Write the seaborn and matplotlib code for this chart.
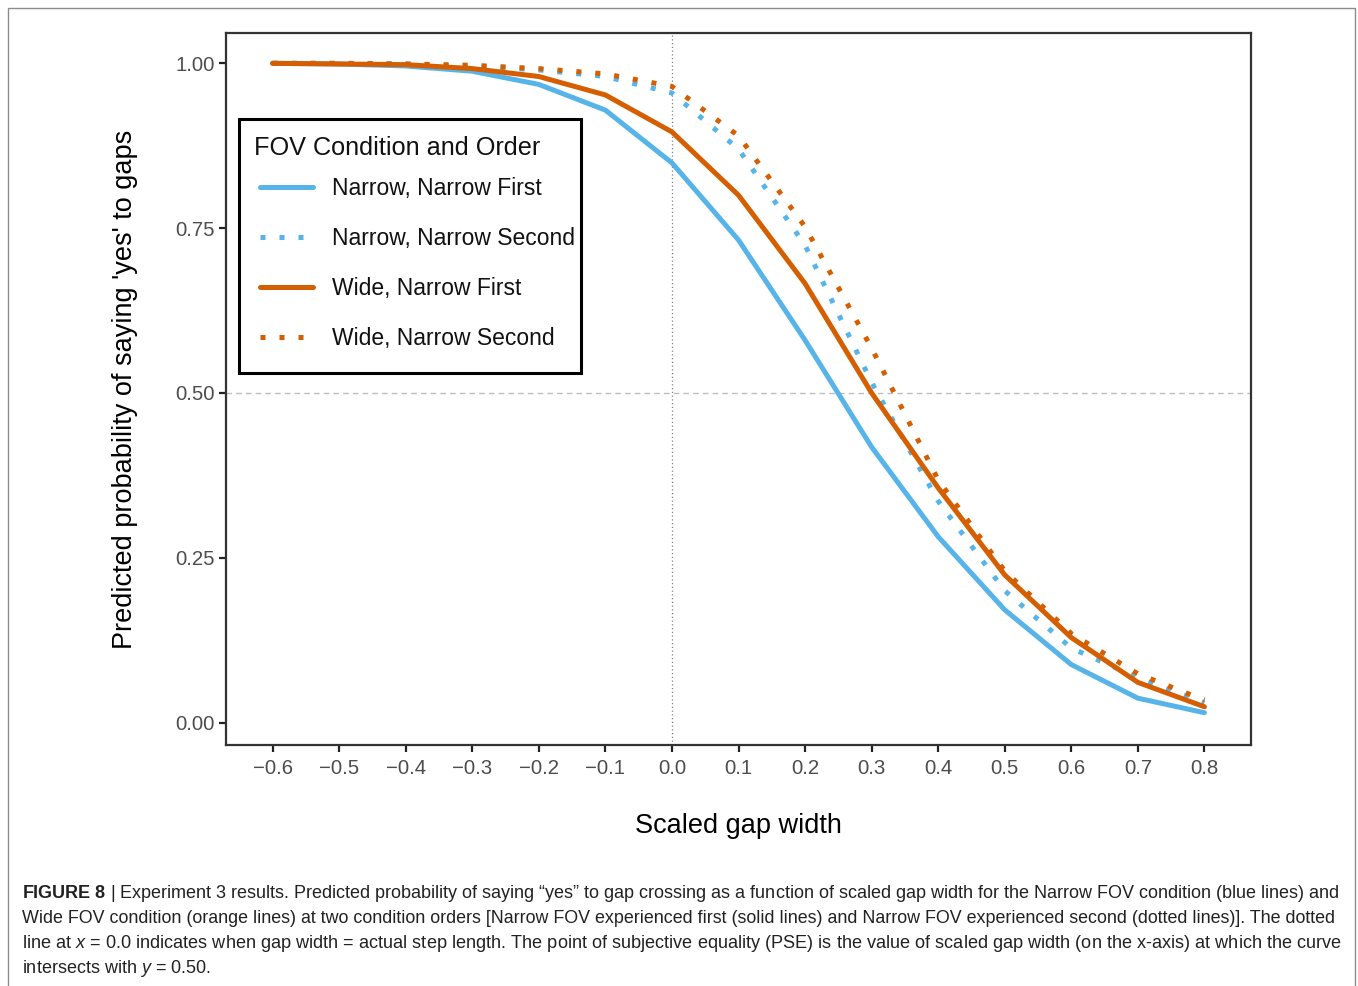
import numpy as np
import pandas as pd
import matplotlib
matplotlib.use("Agg")
import matplotlib.pyplot as plt
import seaborn as sns
from matplotlib.lines import Line2D
from matplotlib.patches import Rectangle
from matplotlib.legend_handler import HandlerLine2D

# ---------------- data ----------------
gap_width = [-0.6, -0.5, -0.4, -0.3, -0.2, -0.1, 0.0, 0.1, 0.2, 0.3, 0.4, 0.5, 0.6, 0.7, 0.8]
narrow_first = [1.000, 0.999, 0.996, 0.988, 0.968, 0.929, 0.849, 0.732, 0.580, 0.418, 0.282, 0.171, 0.088, 0.037, 0.015]
narrow_second = [1.000, 1.000, 0.999, 0.996, 0.990, 0.980, 0.955, 0.870, 0.724, 0.516, 0.336, 0.200, 0.113, 0.068, 0.030]
wide_first = [1.000, 0.999, 0.998, 0.992, 0.980, 0.952, 0.896, 0.800, 0.666, 0.500, 0.356, 0.224, 0.129, 0.061, 0.024]
wide_second = [1.000, 1.000, 0.999, 0.997, 0.992, 0.984, 0.965, 0.890, 0.752, 0.568, 0.368, 0.230, 0.135, 0.074, 0.034]
series_names = ["Narrow, Narrow First", "Narrow, Narrow Second",
                "Wide, Narrow First", "Wide, Narrow Second"]
legend_title = "FOV Condition and Order"
x_tick_values = [-0.6, -0.5, -0.4, -0.3, -0.2, -0.1, 0.0, 0.1, 0.2, 0.3, 0.4, 0.5, 0.6, 0.7, 0.8]
x_tick_labels = ["\u22120.6", "\u22120.5", "\u22120.4", "\u22120.3", "\u22120.2", "\u22120.1",
                 "0.0", "0.1", "0.2", "0.3", "0.4", "0.5", "0.6", "0.7", "0.8"]
y_tick_values = [0.0, 0.25, 0.50, 0.75, 1.00]
y_tick_labels = ["0.00", "0.25", "0.50", "0.75", "1.00"]
x_label = "Scaled gap width"
y_label = "Predicted probability of saying 'yes' to gaps"
caption_lines = [
    r"$\mathbf{FIGURE\ 8}$ | Experiment 3 results. Predicted probability of saying " + "\u201cyes\u201d" +
    " to gap crossing as a function of scaled gap width for the Narrow FOV condition (blue lines) and",
    "Wide FOV condition (orange lines) at two condition orders [Narrow FOV experienced first (solid lines) and Narrow FOV experienced second (dotted lines)]. The dotted",
    r"line at $x$ = 0.0 indicates when gap width = actual step length. The point of subjective equality (PSE) is the value of scaled gap width (on the x-axis) at which the curve",
    r"intersects with $y$ = 0.50.",
]

# ---------------- style ----------------
sns.set_style("white")
plt.rcParams["font.family"] = ["Liberation Sans", "DejaVu Sans"]
plt.rcParams["mathtext.fontset"] = "custom"
plt.rcParams["mathtext.rm"] = "Liberation Sans"
plt.rcParams["mathtext.it"] = "Liberation Sans:italic"
plt.rcParams["mathtext.bf"] = "Liberation Sans:bold"

BLUE = "#56B4E9"
ORANGE = "#D55E00"
palette = {series_names[0]: BLUE, series_names[1]: BLUE,
           series_names[2]: ORANGE, series_names[3]: ORANGE}
DOT = (1, 2.8)
dash_map = {series_names[0]: "", series_names[1]: DOT,
            series_names[2]: "", series_names[3]: DOT}

values = [narrow_first, narrow_second, wide_first, wide_second]
df = pd.concat([pd.DataFrame({"gap": gap_width, "p": v, "series": n})
                for n, v in zip(series_names, values)], ignore_index=True)

W, H = 1358, 986
fig = plt.figure(figsize=(W / 100, H / 100), dpi=100)
fig.patch.set_facecolor("white")
AX_L, AX_R, AX_T, AX_B = 226, 1251, 33, 745
ax = fig.add_axes([AX_L / W, 1 - AX_B / H, (AX_R - AX_L) / W, (AX_B - AX_T) / H])
AW, AH = AX_R - AX_L, AX_B - AX_T

def axfrac(px, py):
    return (px - AX_L) / AW, (AX_B - py) / AH

# reference lines
ax.axvline(0.0, color="#808080", lw=0.9, ls=(0, (1, 2)), zorder=1)
ax.axhline(0.5, color="#bdbdbd", lw=1.0, ls=(0, (4, 3)), zorder=1)

sns.lineplot(data=df, x="gap", y="p", hue="series", style="series",
             hue_order=series_names, style_order=series_names,
             palette=palette, dashes=dash_map, linewidth=3.6,
             legend=False, errorbar=None, estimator=None, sort=False, ax=ax, zorder=3)
for ln in ax.lines[2:]:
    ln.set_dash_capstyle("butt")

ax.set_xlim(-0.67, 0.87)
ax.set_ylim(-0.034, 1.046)
ax.set_xticks(x_tick_values)
ax.set_xticklabels(x_tick_labels)
ax.set_yticks(y_tick_values)
ax.set_yticklabels(y_tick_labels)
ax.tick_params(axis="both", direction="out", length=5, width=1.6, color="#222222",
               labelsize=14.7, labelcolor="#4d4d4d", left=True, bottom=True)
ax.tick_params(axis="x", pad=5)
ax.tick_params(axis="y", pad=3)
for sp in ax.spines.values():
    sp.set_visible(True)
    sp.set_color("#333333")
    sp.set_linewidth(1.6)
ax.grid(False)

ax.set_xlabel(x_label, fontsize=19.5, color="black")
ax.set_ylabel(y_label, fontsize=19.5, color="black")
ax.xaxis.set_label_coords(0.5, -0.095)
ax.yaxis.set_label_coords(-0.086, 0.5)

# legend frame (drawn as a box) and content
x0, y0 = axfrac(239, 373)
x1, y1 = axfrac(581, 119)
ax.add_patch(Rectangle((x0, y0), x1 - x0, y1 - y0, transform=ax.transAxes,
                       facecolor="white", edgecolor="black", lw=2.2, zorder=4,
                       clip_on=False))

LEG_FS = 16.5
fs_px = LEG_FS * 100 / 72
handles = []
for n in series_names:
    h = Line2D([], [], color=palette[n], lw=3.6, dash_capstyle="butt")
    if dash_map[n]:
        h.set_dashes(dash_map[n])
    handles.append(h)
LABSP = 1.18
leg = ax.legend(handles, series_names, title=legend_title, loc="upper left",
                bbox_to_anchor=axfrac(254, 136),
                borderaxespad=0, fontsize=LEG_FS, title_fontsize=18.2,
                frameon=False, handlelength=(313 - 254) / fs_px,
                handletextpad=(332 - 313) / fs_px, labelspacing=LABSP,
                borderpad=0.0, alignment="left", labelcolor="#111111",
                handler_map={Line2D: HandlerLine2D(xpad=6 / fs_px)})
leg.get_title().set_color("#111111")
leg.set_zorder(5)
# tighter gap between the legend title and the first entry
try:
    leg._legend_box.sep = LABSP * LEG_FS - 10 * 72 / 100
except Exception:
    pass

# outer frame
fig.add_artist(Rectangle((8 / W, -0.05), (1355 - 8) / W, 1 - 8 / H + 0.05,
                         transform=fig.transFigure, fill=False,
                         edgecolor="#8c8c8c", lw=1.0, clip_on=False))

# caption, each line fitted to the reference width
baselines = [898, 923, 948, 973]
targets = [1318, 1313, 1318, None]
texts = []
for s, yb in zip(caption_lines, baselines):
    t = fig.text(22 / W, 1 - yb / H, s, fontsize=12, color="#222222",
                 ha="left", va="baseline")
    texts.append(t)
fig.canvas.draw()
r = fig.canvas.get_renderer()
sizes = []
for t, tw in zip(texts, targets):
    if tw is not None:
        w = t.get_window_extent(r).width
        fs = 12 * tw / w
        t.set_fontsize(fs)
        sizes.append(fs)
texts[-1].set_fontsize(float(np.mean(sizes)))

fig.savefig("out.png", dpi=100, facecolor="white")
